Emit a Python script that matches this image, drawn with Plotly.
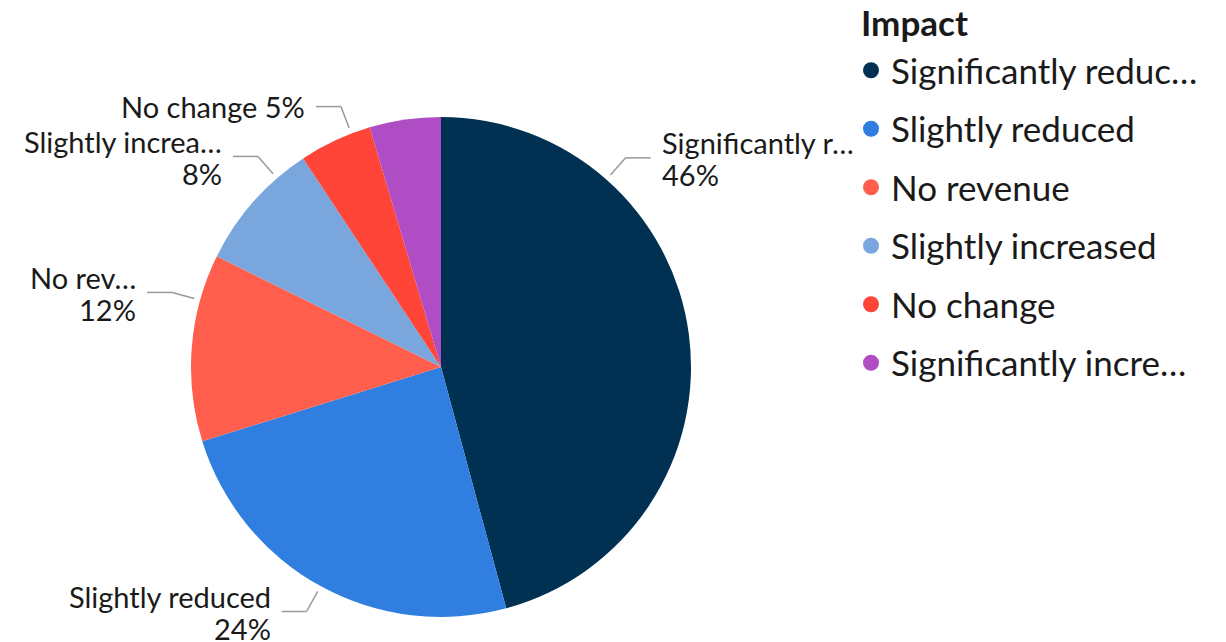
import math
import plotly.graph_objects as go

# ---- data ----
categories = ["Significantly reduced", "Slightly reduced", "No revenue",
              "Slightly increased", "No change", "Significantly increased"]
values = [45.8, 24.4, 12.1, 8.4, 4.7, 4.6]
colors = ["#003153", "#2F7EE0", "#FF5F4C", "#7AA6DE", "#FF4438", "#AF4EC4"]
legend_title = "Impact"

# ---- label styling (display truncation / separators / shown) ----
label_trunc = [15, 40, 6, 15, 40, 0]
label_two_lines = [True, True, True, True, False, None]   # None = label hidden
label_angle_shift = [-41.0, 0.0, 11.0, 7.6, 4.0, 0.0]     # degrees, label layout nudge
legend_trunc = 19

W, H = 1226, 642
CX, CY, R = 441, 367, 250
FONT = "Lato"
LABEL_SIZE = 29
LEGEND_SIZE = 35
TXT = "#1a1a1a"


def trunc(s, n):
    return s if len(s) <= n else s[:n] + "…"


total = sum(values)
pcts = [round(v / total * 100) for v in values]

fig = go.Figure()
fig.add_trace(go.Pie(
    labels=categories, values=values, sort=False, direction="clockwise",
    rotation=0, marker=dict(colors=colors, line=dict(width=0)),
    textinfo="none", hoverinfo="label+percent", showlegend=False,
    domain=dict(x=[(CX - R) / W, (CX + R) / W], y=[1 - (CY + R) / H, 1 - (CY - R) / H]),
))

# legend entries with circle symbols
for name, col in zip(categories, colors):
    fig.add_trace(go.Scatter(
        x=[None], y=[None], mode="markers", name=trunc(name, legend_trunc),
        marker=dict(color=col, size=20, symbol="circle"), legendgroup=name,
        showlegend=True,
    ))


def px(x, y):
    return x / W, 1 - y / H


shapes, annotations = [], []
cum = 0.0
for i, v in enumerate(values):
    mid = (cum + v / 2) / total * 360 + label_angle_shift[i]
    cum += v
    if label_two_lines[i] is None:
        continue
    a = math.radians(mid)
    sx, sy = CX + (R + 6) * math.sin(a), CY - (R + 6) * math.cos(a)
    ex, ey = CX + (R + 29) * math.sin(a), CY - (R + 29) * math.cos(a)
    side = 1 if math.sin(a) >= 0 else -1
    hx = ex + side * 25
    for (x0, y0, x1, y1) in [(sx, sy, ex, ey), (ex, ey, hx, ey)]:
        p0, p1 = px(x0, y0), px(x1, y1)
        shapes.append(dict(type="line", xref="paper", yref="paper",
                           x0=p0[0], y0=p0[1], x1=p1[0], y1=p1[1],
                           line=dict(color="#999999", width=1.5)))
    name = trunc(categories[i], label_trunc[i])
    if label_two_lines[i]:
        lines = [(name, ey - 15), (f"{pcts[i]}%", ey + 17)]
    else:
        lines = [(f"{name} {pcts[i]}%", ey)]
    for t, yy in lines:
        tx, ty = px(hx + side * 9, yy)
        annotations.append(dict(
            x=tx, y=ty, xref="paper", yref="paper", text=t, showarrow=False,
            xanchor="left" if side > 0 else "right", yanchor="middle",
            font=dict(family=FONT, size=LABEL_SIZE, color=TXT),
        ))

# legend title
tx, ty = px(859, 22)
annotations.append(dict(
    x=tx, y=ty, xref="paper", yref="paper", text=f"<b>{legend_title}</b>",
    showarrow=False, xanchor="left", yanchor="middle",
    font=dict(family=FONT, size=35, color=TXT),
))

fig.update_layout(
    width=W, height=H, margin=dict(l=0, r=0, t=0, b=0),
    paper_bgcolor="white", plot_bgcolor="white",
    xaxis=dict(visible=False), yaxis=dict(visible=False),
    shapes=shapes, annotations=annotations,
    font=dict(family=FONT, color=TXT),
    legend=dict(
        x=851 / W, y=1 - 41 / H, xanchor="left", yanchor="top",
        font=dict(family=FONT, size=LEGEND_SIZE, color=TXT),
        tracegroupgap=10, itemsizing="trace", bgcolor="rgba(0,0,0,0)",
    ),
)

fig.write_html("out.html", config={"displayModeBar": False},
               post_script="document.body.style.margin='0';document.body.style.overflow='hidden';")
